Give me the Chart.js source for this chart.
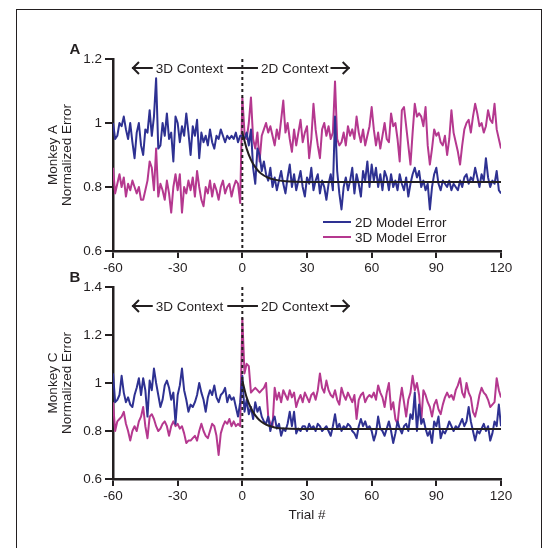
<!DOCTYPE html>
<html>
<head>
<meta charset="utf-8">
<script src="https://cdn.jsdelivr.net/npm/chart.js@4.4.0/dist/chart.umd.min.js"></script>
<style>
  html, body { margin: 0; padding: 0; background: #fff; overflow: hidden; }
  body { width: 546px; height: 548px; position: relative; }
  #frame { position: absolute; left: 16px; top: 9px; width: 526px; height: 600px; border: 1px solid #231f20; box-sizing: border-box; }
  canvas { position: absolute; left: 0; }
  #chartA { top: 0; }
  #chartB { top: 270px; }
</style>
</head>
<body>
<div id="frame"></div>
<canvas id="chartA" width="546" height="280"></canvas>
<canvas id="chartB" width="546" height="278"></canvas>
<script>
// trial numbers (x categories)
const trials = [];
for (let t = -60; t <= 120; t++) trials.push(t);

const xTicks = [-60, -30, 0, 30, 60, 90, 120];
const yTicksA = [0.6, 0.8, 1, 1.2];
const yTicksB = [0.6, 0.8, 1, 1.2, 1.4];
const seriesNames = ['2D Model Error', '3D Model Error'];

// Monkey A, trials -60..120
const a2d = [
  1.00, 0.95, 0.96, 1.00, 0.99, 1.02, 0.98, 0.95, 1.00, 0.94,
  0.89, 0.97, 1.00, 0.93, 0.90, 0.98, 0.97, 1.04, 0.96, 1.02,
  1.14, 0.92, 0.93, 1.00, 0.96, 1.03, 0.95, 0.97, 0.88, 1.02,
  1.00, 0.94, 0.99, 0.96, 1.03, 0.97, 0.90, 0.99, 0.96, 1.01,
  0.89, 0.97, 0.94, 0.96, 0.93, 0.98, 0.94, 0.92, 0.96, 0.95,
  0.98, 0.96, 0.94, 0.96, 0.95, 0.96, 0.95, 0.97, 0.94, 0.96,
  0.96, 0.95, 0.97, 0.93, 0.98, 0.86, 0.81, 0.92, 0.90, 0.85,
  0.88, 0.84, 0.82, 0.86, 0.80, 0.83, 0.79, 0.82, 0.85, 0.81,
  0.78, 0.83, 0.87, 0.80, 0.84, 0.79, 0.82, 0.85, 0.80, 0.77,
  0.83, 0.81, 0.86, 0.79, 0.82, 0.84, 0.78, 0.82, 0.80, 0.76,
  0.81, 0.84, 0.79, 1.02, 0.85, 0.78, 0.73, 0.80, 0.83, 0.79,
  0.82, 0.86, 0.78, 0.84, 0.81, 0.77, 0.85, 0.82, 0.88, 0.80,
  0.87, 0.82, 0.86, 0.80, 0.84, 0.79, 0.85, 0.83, 0.79, 0.84,
  0.80, 0.82, 0.79, 0.84, 0.81, 0.79, 0.83, 0.77, 0.81, 0.84,
  0.86, 0.83, 0.85, 0.80, 0.82, 0.79, 0.81, 0.73, 0.80, 0.84,
  0.86, 0.81, 0.79, 0.82, 0.81, 0.80, 0.82, 0.79, 0.81, 0.80,
  0.79, 0.82, 0.80, 0.83, 0.84, 0.81, 0.83, 0.82, 0.86, 0.83,
  0.80, 0.84, 0.82, 0.89, 0.83, 0.80, 0.82, 0.81, 0.85, 0.79,
  0.78
];
const a3d = [
  0.86, 0.78, 0.81, 0.84, 0.80, 0.83, 0.77, 0.81, 0.79, 0.82,
  0.80, 0.78, 0.80, 0.76, 0.76, 0.79, 0.82, 0.88, 0.86, 0.79,
  0.92, 0.77, 0.81, 0.79, 0.76, 0.82, 0.78, 0.72, 0.80, 0.84,
  0.79, 0.84, 0.72, 0.80, 0.78, 0.82, 0.79, 0.83, 0.77, 0.85,
  0.80, 0.76, 0.74, 0.80, 0.78, 0.82, 0.77, 0.81, 0.79, 0.76,
  0.80, 0.82, 0.78, 0.80, 0.81, 0.77, 0.80, 0.82, 0.81, 0.75,
  1.08, 0.97, 0.95, 1.00, 1.08, 0.95, 0.92, 0.97, 0.88, 0.96,
  0.98, 1.00, 0.97, 0.99, 0.96, 0.93, 0.98, 0.95, 1.01, 1.07,
  0.97, 1.00, 0.95, 0.91, 0.98, 0.93, 0.97, 1.01, 0.94, 0.97,
  0.99, 0.89, 0.95, 1.06, 0.98, 0.93, 0.89, 0.98, 1.00, 0.96,
  0.99, 0.95, 0.97, 1.13, 0.95, 0.93, 0.94, 0.97, 0.93, 0.99,
  0.96, 0.98, 0.95, 1.02, 0.97, 0.94, 0.98, 0.93, 0.96, 0.99,
  1.05, 0.98, 0.93, 0.97, 0.92, 0.96, 1.00, 0.95, 0.94, 1.03,
  0.99, 1.00, 0.95, 0.88, 1.04, 1.05, 0.99, 0.93, 0.87, 0.97,
  1.06, 1.02, 1.03, 1.02, 0.99, 1.05, 0.93, 0.87, 0.92, 0.98,
  0.96, 0.97, 0.94, 0.93, 0.96, 0.90, 0.95, 1.04, 0.97, 0.94,
  0.91, 0.87, 0.93, 0.98, 1.00, 1.01, 0.97, 1.02, 1.06, 1.03,
  0.99, 1.00, 0.97, 0.99, 1.04, 1.01, 1.00, 1.06, 0.98, 0.95,
  0.92
];

// Monkey C, trials -60..120
const b2d = [
  1.04, 0.92, 0.93, 0.95, 1.03, 0.96, 0.92, 0.94, 0.91, 0.90,
  0.95, 0.98, 1.02, 0.95, 1.02, 0.97, 0.86, 1.01, 0.97, 1.06,
  1.00, 0.95, 0.90, 0.93, 0.99, 1.01, 0.98, 0.93, 0.96, 0.83,
  0.95, 0.99, 1.06, 0.97, 0.93, 0.88, 0.91, 0.90, 0.92, 0.95,
  1.00, 0.96, 0.93, 0.88, 0.94, 0.97, 0.95, 0.99, 0.94, 0.92,
  0.95, 0.96, 0.98, 0.92, 0.95, 0.93, 0.94, 0.90, 0.86, 0.92,
  1.03, 0.88, 0.93, 0.87, 0.90, 0.85, 0.92, 0.88, 0.90, 0.86,
  0.84, 0.83, 0.86, 0.80, 0.84, 0.86, 0.81, 0.83, 0.78, 0.81,
  0.80, 0.83, 0.88, 0.82, 0.88, 0.79, 0.81, 0.80, 0.82, 0.82,
  0.80, 0.83, 0.81, 0.82, 0.80, 0.83, 0.82, 0.80, 0.81, 0.82,
  0.80, 0.78, 0.82, 0.87, 0.81, 0.83, 0.80, 0.82, 0.81, 0.83,
  0.82, 0.80, 0.79, 0.77, 0.82, 0.85, 0.82, 0.84, 0.81, 0.82,
  0.80, 0.76, 0.79, 0.86, 0.81, 0.80, 0.78, 0.81, 0.84, 0.80,
  0.75, 0.79, 0.84, 0.81, 0.79, 0.82, 0.83, 0.80, 0.87, 0.85,
  0.96, 0.80, 0.91, 0.83, 0.85, 0.81, 0.78, 0.80, 0.75, 0.84,
  0.82, 0.86, 0.77, 0.80, 0.79, 0.81, 0.84, 0.82, 0.80, 0.82,
  0.81, 0.83, 0.85, 0.82, 0.84, 0.90, 0.84, 0.80, 0.76, 0.80,
  0.79, 0.81, 0.83, 0.80, 0.82, 0.76, 0.79, 0.84, 0.82, 0.91,
  0.82
];
const b3d = [
  0.92, 0.80, 0.84, 0.85, 0.86, 0.88, 0.83, 0.80, 0.76, 0.80,
  0.82, 0.80, 0.84, 0.86, 0.90, 0.82, 0.77, 0.86, 0.87, 0.85,
  0.82, 0.80, 0.81, 0.83, 0.84, 0.82, 0.78, 0.82, 0.84, 0.82,
  0.83, 0.81, 0.82, 0.79, 0.75, 0.76, 0.76, 0.77, 0.78, 0.76,
  0.80, 0.83, 0.80, 0.78, 0.77, 0.80, 0.83, 0.82, 0.78, 0.70,
  0.79, 0.82, 0.84, 0.83, 0.85, 0.82, 0.84, 0.82, 0.83, 0.82,
  1.27, 1.04, 1.08, 1.07, 0.96, 0.97, 0.98, 0.97, 0.96, 0.97,
  0.98, 1.00, 0.86, 0.83, 0.82, 0.98, 0.93, 0.96, 0.92, 0.97,
  0.95, 0.93, 0.97, 0.94, 0.96, 0.90, 0.93, 0.95, 0.92, 0.96,
  0.94, 0.92, 0.95, 0.96, 0.93, 0.97, 1.04, 0.98, 0.96, 1.01,
  0.97, 0.95, 0.94, 0.97, 0.93, 0.91, 0.98, 0.95, 0.93, 0.96,
  0.94, 0.92, 0.95, 0.85, 0.93, 0.95, 0.96, 0.92, 0.94, 0.95,
  0.94, 0.96, 0.93, 0.99, 0.96, 0.94, 0.90, 0.96, 1.00, 0.89,
  0.92, 0.85, 0.83, 0.92, 0.98, 0.92, 0.86, 0.93, 0.96, 1.03,
  0.97, 1.00, 0.95, 0.84, 0.97, 0.95, 0.92, 0.90, 0.86, 0.91,
  0.93, 0.89, 0.87, 0.91, 0.94, 0.96, 0.94, 0.95, 0.93, 0.97,
  0.99, 1.02, 0.96, 0.94, 1.00, 0.96, 0.94, 0.88, 0.86, 0.90,
  0.95, 0.98, 0.96, 0.95, 0.93, 0.90, 0.91, 0.92, 1.02, 0.97,
  0.94
];

// exponential fit of the 2D error after the switch
const fitTrials = [0, 2, 4, 6, 8, 10, 12, 15, 20, 30, 60, 90, 120];
const fitA = [0.97, 0.92, 0.885, 0.862, 0.846, 0.836, 0.829, 0.823, 0.818, 0.816, 0.816, 0.816, 0.816];
const fitB = [1.01, 0.94, 0.895, 0.865, 0.845, 0.832, 0.823, 0.815, 0.81, 0.808, 0.808, 0.808, 0.808];

const INK = '#231f20';
const BLUE = '#2e3192';
const MAGENTA = '#b5388f';
const FONT = '"Liberation Sans", Arial, sans-serif';

Chart.defaults.font.family = FONT;
Chart.defaults.font.size = 13.5;
Chart.defaults.color = INK;

const pts = (xs, ys) => xs.map((x, i) => ({ x: x, y: ys[i] }));

const decor = {
  id: 'decor',
  afterDatasetsDraw(chart, args, opts) {
    const { ctx, chartArea: ca, scales: { x } } = chart;
    ctx.save();
    ctx.strokeStyle = INK;
    ctx.fillStyle = INK;

    // dashed switch line at trial 0
    const x0 = x.getPixelForValue(0);
    ctx.lineWidth = 2;
    ctx.setLineDash([3, 3]);
    ctx.beginPath();
    ctx.moveTo(x0, ca.top);
    ctx.lineTo(x0, ca.bottom);
    ctx.stroke();
    ctx.setLineDash([]);

    // panel letter
    ctx.font = 'bold 15px ' + FONT;
    ctx.textAlign = 'center';
    ctx.textBaseline = 'middle';
    ctx.fillText(opts.letter, 75, ca.top - 9);

    // context annotation
    const ay = ca.top + opts.annotY;
    ctx.font = '13.5px ' + FONT;
    const t3 = '3D Context', t2 = '2D Context';
    const c3 = x.getPixelForValue(-24.5), c2 = x.getPixelForValue(24.3);
    const w3 = ctx.measureText(t3).width, w2 = ctx.measureText(t2).width;
    ctx.fillText(t3, c3, ay + 1);
    ctx.fillText(t2, c2, ay + 1);
    const l = x.getPixelForValue(-51.2), r = x.getPixelForValue(49.8);
    ctx.lineWidth = 2;
    ctx.beginPath();
    ctx.moveTo(l, ay); ctx.lineTo(c3 - w3 / 2 - 3, ay);
    ctx.moveTo(c3 + w3 / 2 + 4, ay); ctx.lineTo(c2 - w2 / 2 - 3, ay);
    ctx.moveTo(c2 + w2 / 2 + 2, ay); ctx.lineTo(r, ay);
    ctx.stroke();
    ctx.beginPath();
    ctx.moveTo(l + 7, ay - 6); ctx.lineTo(l + 1, ay); ctx.lineTo(l + 7, ay + 6);
    ctx.moveTo(r - 7, ay - 6); ctx.lineTo(r - 1, ay); ctx.lineTo(r - 7, ay + 6);
    ctx.stroke();

    // legend
    if (opts.legend) {
      const rows = [[BLUE, seriesNames[0], 222], [MAGENTA, seriesNames[1], 237]];
      ctx.textAlign = 'left';
      rows.forEach(([c, label, y]) => {
        ctx.strokeStyle = c;
        ctx.lineWidth = 2;
        ctx.beginPath();
        ctx.moveTo(323, y);
        ctx.lineTo(351, y);
        ctx.stroke();
        ctx.fillStyle = INK;
        ctx.fillText(label, 355, y + 1);
      });
    }
    ctx.restore();
  }
};

function makePanel(id, d2, d3, fit, yMin, yMax, yTicks, ytitle, opt) {
  new Chart(document.getElementById(id), {
    type: 'line',
    data: {
      datasets: [
        { label: 'fit', data: pts(fitTrials, fit), borderColor: INK, borderWidth: 2,
          pointRadius: 0, cubicInterpolationMode: 'monotone' },
        { label: seriesNames[0], data: pts(trials, d2), borderColor: BLUE, borderWidth: 2,
          pointRadius: 0, borderJoinStyle: 'round' },
        { label: seriesNames[1], data: pts(trials, d3), borderColor: MAGENTA, borderWidth: 2,
          pointRadius: 0, borderJoinStyle: 'round' }
      ]
    },
    options: {
      responsive: false,
      animation: false,
      layout: { padding: { top: opt.top, right: 45, left: 0, bottom: 0 } },
      plugins: {
        legend: { display: false },
        tooltip: { enabled: false },
        decor: { letter: opt.letter, annotY: opt.annotY, legend: opt.legend }
      },
      scales: {
        x: {
          type: 'linear',
          min: -60,
          max: 120,
          afterBuildTicks: s => { s.ticks = xTicks.map(v => ({ value: v })); },
          afterFit: s => { s.height = opt.xHeight; },
          ticks: { callback: v => String(v), padding: 2, maxRotation: 0 },
          grid: { drawOnChartArea: false, tickLength: 7, color: INK, lineWidth: 2 },
          border: { color: INK, width: 2.5 },
          title: { display: opt.xTitle, text: 'Trial #', padding: { top: 0, bottom: 25 } }
        },
        y: {
          min: yMin,
          max: yMax,
          afterBuildTicks: s => { s.ticks = yTicks.map(v => ({ value: v })); },
          afterFit: s => { s.width = 113; },
          ticks: { callback: v => String(v), padding: 3 },
          grid: { drawOnChartArea: false, tickLength: 8, color: INK, lineWidth: 2 },
          border: { color: INK, width: 2.5 },
          title: { display: true, text: ytitle, font: { size: 13.5, lineHeight: 1 }, padding: { top: 47, bottom: 0 } }
        }
      }
    },
    plugins: [decor]
  });
}

makePanel('chartA', a2d, a3d, fitA, 0.6, 1.2, yTicksA, ['Monkey A', 'Normalized Error'],
  { top: 59, xHeight: 29, letter: 'A', annotY: 9, legend: true, xTitle: false });
makePanel('chartB', b2d, b3d, fitB, 0.6, 1.4, yTicksB, ['Monkey C', 'Normalized Error'],
  { top: 17, xHeight: 69, letter: 'B', annotY: 19, legend: false, xTitle: true });
</script>
</body>
</html>
